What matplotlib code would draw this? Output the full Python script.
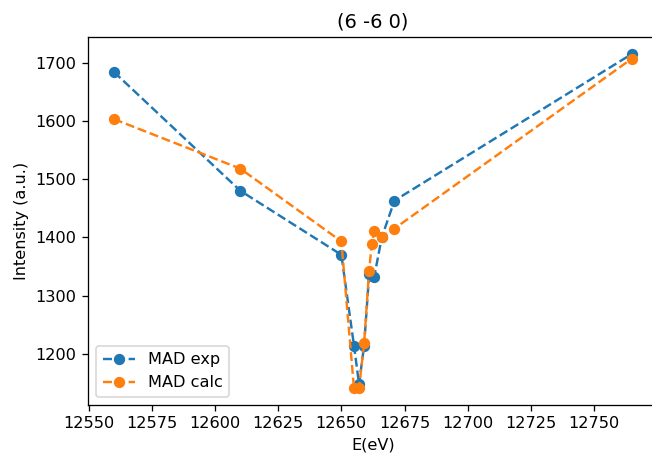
import numpy as np
import matplotlib
matplotlib.use('Agg')
import matplotlib.pyplot as plt

# energies (eV) and intensities
energy = [12560, 12610, 12650, 12655, 12657, 12659, 12661, 12662, 12663, 12666, 12671, 12765]
mad_exp = [1684, 1480, 1370, 1214, 1148, 1214, 1337, 1334, 1332, 1400, 1463, 1715]
mad_calc = [1603, 1518, 1393, 1141, 1141, 1218, 1343, 1388, 1410, 1401, 1415, 1707]
xticks = [12550, 12575, 12600, 12625, 12650, 12675, 12700, 12725, 12750]

dpi = 116
fig = plt.figure(figsize=(652 / dpi, 459 / dpi), dpi=dpi)
# axes run a bit past the right edge, like the cropped original
ax = fig.add_axes([0.135, 0.118, 0.874, 0.801])
ax.plot(energy, mad_exp, '--o', label='MAD exp')
ax.plot(energy, mad_calc, '--o', label='MAD calc')
ax.set_xticks(xticks)
ax.set_title('(6 -6 0)')
ax.set_xlabel('E(eV)')
ax.set_ylabel('Intensity (a.u.)')
ax.legend(loc='lower left')
fig.savefig('out.png', dpi=dpi)
